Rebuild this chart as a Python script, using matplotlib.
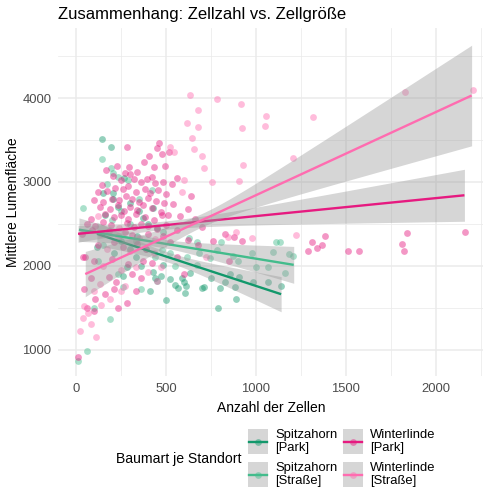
import numpy as np
import matplotlib.pyplot as plt
from matplotlib.patches import Rectangle
from matplotlib.lines import Line2D

plt.rcParams['font.family'] = ['Liberation Sans', 'DejaVu Sans']

# groups and colours
groups = ['Spitzahorn\n[Park]', 'Spitzahorn\n[Straße]', 'Winterlinde\n[Park]', 'Winterlinde\n[Straße]']
colors = ['#12986B', '#43BC8C', '#E61A80', '#FF6CB0']

# points (Anzahl der Zellen, Mittlere Lumenfläche)
spitz_park = [
    (141, 3508), (193, 3420), (202, 2864), (265, 3050), (150, 2864), (202, 2790),
    (428, 2685), (373, 2565), (113, 2227), (160, 2600), (230, 2700), (300, 2750),
    (350, 2650), (400, 2500), (450, 2450), (250, 2300), (300, 2200), (340, 2350),
    (497, 1595), (787, 1495), (889, 1600), (549, 1770), (564, 1730), (590, 1850),
    (601, 1800), (610, 1758), (605, 1680), (698, 1730), (712, 1745), (800, 1730),
    (827, 1810), (883, 1750), (750, 1850), (855, 1897), (907, 1870), (985, 1810),
    (1065, 1802), (1139, 1758), (484, 2008), (438, 1850), (451, 1818), (425, 1928),
    (633, 1910), (330, 2100), (280, 1980), (360, 2000), (410, 1700), (470, 1880),
    (520, 1840), (210, 2150), (260, 1880),
]
spitz_strasse = [
    (141, 3270), (193, 3162), (172, 2975), (234, 3062), (290, 3020), (39, 2685),
    (202, 3102), (11, 867), (58, 982), (190, 1364), (100, 1490), (1111, 2280),
    (1133, 2287), (1185, 2140), (1207, 2120), (1161, 1910), (1068, 1988), (1093, 2167),
    (976, 2155), (874, 2116), (781, 2187), (744, 2088), (685, 2155), (614, 2107),
    (521, 2148), (475, 2187), (629, 2327), (670, 2287), (803, 2279), (480, 2400),
    (670, 2008), (300, 2500), (250, 2650), (350, 2800), (420, 2900), (200, 2550),
    (150, 2250), (330, 2300), (390, 2200), (440, 2100), (550, 2000), (900, 2050),
    (1000, 1980), (120, 2050), (260, 1750), (360, 1720), (230, 1900),
]
linde_park = [
    (462, 3460), (280, 3410), (447, 3400), (405, 3310), (477, 3330), (516, 3360),
    (494, 3195), (377, 3235), (225, 3190), (292, 3180), (430, 3180),
    (164, 3140), (336, 3120), (270, 3110), (300, 3090), (420, 3060), (560, 3050),
    (141, 2960), (206, 3070), (250, 3020), (320, 3040), (360, 3000), (395, 3040),
    (440, 2990), (480, 3000), (530, 2980),
    (120, 2880), (170, 2890), (215, 2930), (260, 2910), (290, 2950), (330, 2880),
    (380, 2920), (410, 2870), (455, 2900), (500, 2860), (640, 2830),
    (100, 2780), (150, 2760), (200, 2800), (240, 2780), (275, 2830), (310, 2790),
    (350, 2760), (400, 2810), (445, 2770), (490, 2750), (540, 2730),
    (130, 2700), (185, 2680), (230, 2720), (265, 2650), (300, 2700), (340, 2660),
    (370, 2720), (420, 2690), (470, 2640), (510, 2600), (620, 2680),
    (80, 2560), (160, 2620), (210, 2580), (250, 2600), (290, 2560), (330, 2620),
    (380, 2580), (430, 2550), (475, 2600), (580, 2590), (660, 2560),
    (60, 2500), (105, 2470), (150, 2520), (195, 2490), (280, 2510), (320, 2460),
    (360, 2500), (400, 2470), (450, 2440), (500, 2480), (560, 2430), (700, 2460),
    (30, 2380), (90, 2420), (180, 2410), (270, 2400), (310, 2370), (400, 2380),
    (480, 2360), (620, 2310), (760, 2300), (830, 2380), (880, 2340),
    (50, 2100), (120, 2250), (210, 2280), (260, 2220), (340, 2260), (390, 2200),
    (520, 2280), (680, 2250), (920, 2290),
    (40, 2100), (100, 2050), (200, 2080), (290, 2020), (370, 2060), (420, 2030),
    (560, 2100), (850, 2050),
    (80, 1850), (180, 1870), (220, 1800), (310, 1900), (360, 1850), (600, 1900),
    (45, 1720), (160, 1660), (210, 1720), (330, 1700),
    (60, 1500), (105, 1600), (230, 1500), (280, 1560), (10, 910), (100, 1460),
    (1291, 2179), (1313, 2283), (1338, 2215), (1366, 2243), (1384, 2358), (1510, 2179),
    (1575, 2175), (1814, 2259), (1823, 2179), (1838, 2386), (2165, 2398),
]
linde_strasse = [
    (634, 4035), (781, 3985), (915, 3933), (679, 3857), (614, 3706), (679, 3659),
    (920, 3646), (1057, 3782), (1050, 3670), (1315, 3774), (1829, 4069), (2209, 4093),
    (1204, 3289), (645, 3520), (656, 3392), (698, 3312), (929, 3205), (711, 3162),
    (753, 3002), (903, 3010), (521, 3420), (601, 3022),
    (1221, 2366), (980, 2327), (887, 2398), (844, 2339),
    (20, 1220), (65, 1440), (80, 1300), (110, 1150), (39, 1376), (45, 1520),
    (140, 1530), (190, 1600), (130, 1780), (270, 1760), (250, 1950), (330, 1980),
    (150, 2000), (470, 1990), (400, 1920), (450, 1820), (100, 1700), (250, 1700),
    (430, 2150), (300, 2180), (170, 2200), (720, 2100), (140, 2380), (230, 2350),
    (350, 2330), (440, 2320), (120, 2590), (235, 2450), (590, 2880), (545, 3360),
]
points = [spitz_park, spitz_strasse, linde_park, linde_strasse]

# linear trend lines: ends and confidence band half-widths
fit_x0 = [115, 15, 10, 50]
fit_x1 = [1140, 1210, 2160, 2200]
fit_y0 = [2380, 2430, 2380, 1900]
fit_y1 = [1660, 2010, 2840, 4030]
band_h0 = [140, 140, 100, 270]
band_hmin = [60, 50, 50, 80]
band_h1 = [210, 220, 310, 600]

fig = plt.figure(figsize=(5, 5), dpi=100)
ax = fig.add_axes([58.3 / 500, 124 / 500, 425 / 500, 347.7 / 500])

for pts, col in zip(points, colors):
    arr = np.array(pts)
    ax.scatter(arr[:, 0], arr[:, 1], s=24, color=col, alpha=0.45, linewidths=0, zorder=2)

for i, col in enumerate(colors):
    x0, x1 = fit_x0[i], fit_x1[i]
    h0, hm, h1 = band_h0[i], band_hmin[i], band_h1[i]
    r = np.sqrt((h0**2 - hm**2) / (h1**2 - hm**2))
    xm = (x0 + r * x1) / (1 + r)
    k = (h0**2 - hm**2) / (x0 - xm)**2
    xs = np.linspace(x0, x1, 120)
    ys = fit_y0[i] + (fit_y1[i] - fit_y0[i]) * (xs - x0) / (x1 - x0)
    half = np.sqrt(hm**2 + k * (xs - xm)**2)
    ax.fill_between(xs, ys - half, ys + half, color='#999999', alpha=0.4, linewidth=0, zorder=3 + i)
    ax.plot(xs, ys, color=col, linewidth=1.7, zorder=3 + i, solid_capstyle='butt')

ax.set_xlim(-100, 2265)
ax.set_ylim(684, 4832)
ax.set_xticks([0, 500, 1000, 1500, 2000])
ax.set_xticks([250, 750, 1250, 1750, 2250], minor=True)
ax.set_yticks([1000, 2000, 3000, 4000])
ax.set_yticks([1500, 2500, 3500, 4500], minor=True)
ax.grid(which='major', color='#EBEBEB', linewidth=1.1)
ax.grid(which='minor', color='#EBEBEB', linewidth=0.55)
ax.set_axisbelow(True)
for s in ax.spines.values():
    s.set_visible(False)
ax.tick_params(which='both', length=0, labelsize=9.4, labelcolor='#4D4D4D', pad=5)

ax.set_xlabel('Anzahl der Zellen', fontsize=10, labelpad=4)
ax.set_ylabel('Mittlere Lumenfläche', fontsize=10, labelpad=2)
fig.text(58 / 500, 1 - 14 / 500, 'Zusammenhang: Zellzahl vs. Zellgröße', fontsize=12,
         ha='left', va='center')

# legend at the bottom, drawn in pixel coordinates
lg = fig.add_axes([0, 0, 1, 1], zorder=10)
lg.set_xlim(0, 500)
lg.set_ylim(500, 0)
lg.axis('off')
lg.patch.set_alpha(0)
lg.text(116, 459, 'Baumart je Standort', fontsize=10.1, ha='left', va='center')
key_x = [248, 248, 343, 343]
key_y = [429, 462, 429, 462]
for i, col in enumerate(colors):
    kx, ky = key_x[i], key_y[i]
    lg.add_patch(Rectangle((kx, ky), 20, 25, facecolor='#D6D6D6', edgecolor='none'))
    lg.add_line(Line2D([kx + 1, kx + 19], [ky + 12.5, ky + 12.5], color=col, linewidth=1.7))
    lg.scatter([kx + 10], [ky + 12.5], s=24, color=col, alpha=0.45, linewidths=0)
    lg.text(kx + 27, ky + 12.5, groups[i], fontsize=9.4, ha='left', va='center', linespacing=1.05)

fig.savefig('out.png', dpi=100)
